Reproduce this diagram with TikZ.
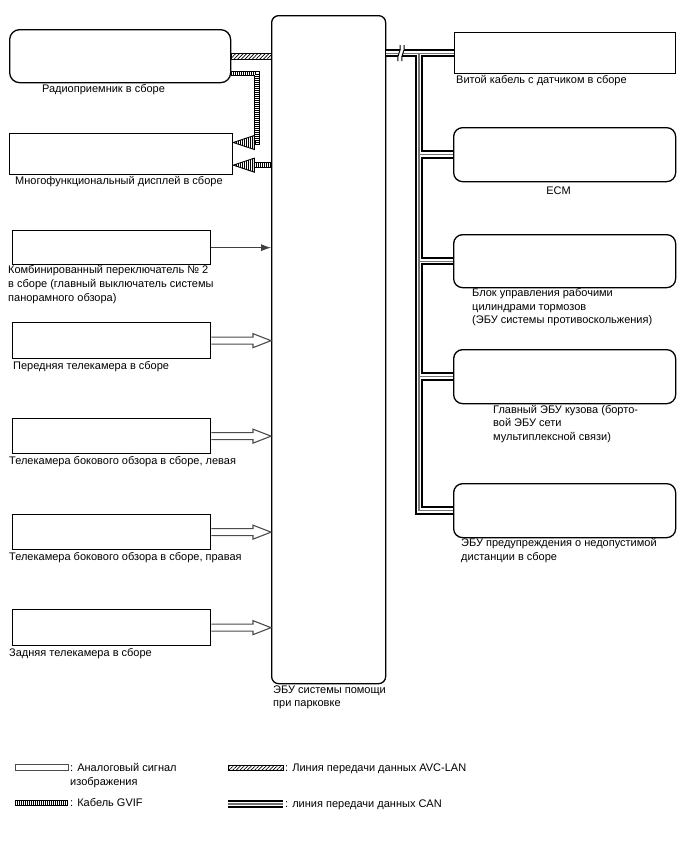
\documentclass[tikz,border=0pt]{standalone}
\usepackage{fontspec}
\setmainfont{Liberation Sans}
\usetikzlibrary{patterns.meta,arrows.meta,calc}
\begin{document}
\begin{tikzpicture}[x=1pt,y=-1pt,
  box/.style={draw, line width=1.3pt, inner sep=0pt, anchor=north west},
  rbox/.style={box, rounded corners=9pt},
  lbl/.style={inner sep=0pt, font=\fontsize{11}{13.6}\selectfont, align=left},
  harrow/.style={draw=black!70, line width=1.1pt, line join=miter, fill=white},
  canA/.style={line width=8.5pt, black, line join=miter},
  canB/.style={line width=4.6pt, white, line join=miter},
  canC/.style={line width=1.1pt, black!55, line join=miter},
  gvA/.style={line width=5.6pt, black, line join=miter},
  gvB/.style={line width=3.4pt, white, line join=miter},
  gvC/.style={line width=3.4pt, black, dash pattern=on 0.6pt off 1.4pt},
  gvhead/.style={draw, line width=0.9pt, fill=white},
  avc/.style={draw, line width=0.8pt, pattern={Lines[angle=45,distance=2.6pt,line width=0.7pt]}}
]
\useasboundingbox (0,0) rectangle (688,852);

% left boxes
\node[rbox, rounded corners=10pt, minimum width=221pt, minimum height=53pt] (radio) at (9,29) {};
\node[box, minimum width=223pt, minimum height=41pt] (disp) at (9,133) {};
\node[box, minimum width=198pt, minimum height=34pt] (sw) at (12,230) {};
\node[box, minimum width=198pt, minimum height=36pt] (fc) at (12,322) {};
\node[box, minimum width=198pt, minimum height=35pt] (sl) at (12,418) {};
\node[box, minimum width=198pt, minimum height=35pt] (sr) at (12,514) {};
\node[box, minimum width=198pt, minimum height=36pt] (rc) at (12,609) {};
% ECU
\node[rbox, rounded corners=7pt, minimum width=114pt, minimum height=668pt] (ecu) at (271,15) {};
% right boxes
\node[box, minimum width=221pt, minimum height=41pt] (tw) at (454,32) {};
\node[rbox, minimum width=222pt, minimum height=54pt] (ecm) at (453,127) {};
\node[rbox, minimum width=222pt, minimum height=53pt] (brake) at (453,234) {};
\node[rbox, minimum width=222pt, minimum height=54pt] (body) at (453,349) {};
\node[rbox, minimum width=222pt, minimum height=54pt] (dist) at (453,483) {};

% labels
\node[lbl, anchor=base] (radioL) at (103.5,92) {Радиоприемник в сборе};
\node[lbl, anchor=base west] (dispL) at (15,184.5) {Многофункциональный дисплей в сборе};
\node[lbl, anchor=north west] (swL) at (8,265.5) {Комбинированный переключатель № 2\\в сборе (главный выключатель системы\\панорамного обзора)};
\node[lbl, anchor=base west] (fcL) at (13,369.5) {Передняя телекамера в сборе};
\node[lbl, anchor=base west] (slL) at (9,464.5) {Телекамера бокового обзора в сборе, левая};
\node[lbl, anchor=base west] (srL) at (9,560.5) {Телекамера бокового обзора в сборе, правая};
\node[lbl, anchor=base west] (rcL) at (9,656.5) {Задняя телекамера в сборе};
\node[lbl, anchor=north west] (ecuL) at (273,685.5) {ЭБУ системы помощи\\при парковке};
\node[lbl, anchor=base west] (twL) at (456,83.5) {Витой кабель с датчиком в сборе};
\node[lbl, anchor=base] (ecmL) at (558.5,194) {ECM};
\node[lbl, anchor=north west] (brakeL) at (472,288.5) {Блок управления рабочими\\цилиндрами тормозов\\(ЭБУ системы противоскольжения)};
\node[lbl, anchor=north west] (bodyL) at (493,405) {Главный ЭБУ кузова (борто-\\вой ЭБУ сети\\мультиплексной связи)};
\node[lbl, anchor=north west] (distL) at (461,538.5) {ЭБУ предупреждения о недопустимой\\дистанции в сборе};

% AVC-LAN radio -> ECU
\coordinate (avcE) at (radio.east -| ecu.west);
\path[avc] ($(radio.east)+(0,-2.8)$) rectangle ($(avcE)+(0,2.8)$);

% GVIF radio -> display
\coordinate (g1) at ($(radio.south east)+(0,-10)$);
\coordinate (gc) at (257,142.5);
\coordinate (d1tip) at (disp.east |- gc);
\coordinate (d1b) at ($(d1tip)+(21,0)$);
\foreach \s in {gvA,gvB,gvC}{\draw[\s] (g1) -- (g1 -| gc) -- (gc) -- (d1b);}
\filldraw[gvhead] (d1tip) -- ($(d1b)+(0,-7)$) -- ($(d1b)+(0,7)$) -- cycle;
\fill[pattern={Lines[angle=90,distance=2pt,line width=0.6pt]}] (d1tip) -- ($(d1b)+(0,-7)$) -- ($(d1b)+(0,7)$) -- cycle;
% GVIF ECU -> display
\coordinate (g2) at ($(ecu.west |- disp.east)+(0,11)$);
\coordinate (d2tip) at (disp.east |- g2);
\coordinate (d2b) at ($(d2tip)+(21,0)$);
\foreach \s in {gvA,gvB,gvC}{\draw[\s] (g2) -- (d2b);}
\filldraw[gvhead] (d2tip) -- ($(d2b)+(0,-7)$) -- ($(d2b)+(0,7)$) -- cycle;
\fill[pattern={Lines[angle=90,distance=2pt,line width=0.6pt]}] (d2tip) -- ($(d2b)+(0,-7)$) -- ($(d2b)+(0,7)$) -- cycle;

% switch -> ECU
\draw[line width=0.8pt, black!75, -{Latex[length=10pt,width=7pt]}] (sw.east) -- (sw.east -| ecu.west);

% hollow arrows from cameras
\foreach \c in {fc,sl,sr,rc}{
  \coordinate (\c T) at (\c.east -| ecu.west);
  \draw[harrow] ($(\c.east)+(0,-3.5)$) -- ($(\c T)+(-18,-3.5)$) -- ++(0,-3.5) -- (\c T) -- ($(\c T)+(-18,7)$) -- ++(0,-3.5) -- ($(\c.east)+(0,3.5)$);
}

% CAN bus
\coordinate (trk) at (419,0 |- tw.west);
\foreach \s in {canA,canB,canC}{
  \draw[\s] (tw.west -| ecu.east) -- (tw.west);
  \draw[\s] (trk) -- (trk |- dist.west) -- (dist.west);
  \draw[\s] (trk |- ecm.west) -- (ecm.west);
  \draw[\s] (trk |- brake.west) -- (brake.west);
  \draw[\s] (trk |- body.west) -- (body.west);
}
% break mark
\coordinate (brk) at (401,0 |- tw.west);
\fill[white] ($(brk)+(-1,-8)$) .. controls ($(brk)+(1,-2)$) and ($(brk)+(-5,2)$) .. ($(brk)+(-3,8)$) -- ($(brk)+(1,8)$) .. controls ($(brk)+(-1,2)$) and ($(brk)+(5,-2)$) .. ($(brk)+(3,-8)$) -- cycle;
\draw[line width=1pt] ($(brk)+(-1,-8)$) .. controls ($(brk)+(1,-2)$) and ($(brk)+(-5,2)$) .. ($(brk)+(-3,8)$);
\draw[line width=1pt] ($(brk)+(3,-8)$) .. controls ($(brk)+(5,-2)$) and ($(brk)+(-1,2)$) .. ($(brk)+(1,8)$);

% legend
\coordinate (la1) at (15,767.5); \coordinate (la2) at (68,767.5);
\draw[draw=black!70, line width=0.9pt, fill=white] ($(la1)+(0,-3)$) rectangle ($(la2)+(0,3)$);
\node[lbl, anchor=north west] (lgA) at (70,763.5) {: Аналоговый сигнал\\изображения};
\coordinate (lg1) at (15,803); \coordinate (lg2) at (68,803);
\foreach \s in {gvA,gvB,gvC}{\draw[\s] (lg1) -- (lg2);}
\node[lbl, anchor=base west] (lgG) at (70,806.5) {: Кабель GVIF};
\coordinate (lv1) at (228,768); \coordinate (lv2) at (283,768);
\path[avc] ($(lv1)+(0,-2.8)$) rectangle ($(lv2)+(0,2.8)$);
\node[lbl, anchor=base west] (lgV) at (285,771.5) {: Линия передачи данных AVC-LAN};
\coordinate (lc1) at (228,804); \coordinate (lc2) at (283,804);
\foreach \s in {canA,canB,canC}{\draw[\s] (lc1) -- (lc2);}
\node[lbl, anchor=base west] (lgC) at (285,807.5) {: линия передачи данных CAN};
\end{tikzpicture}
\end{document}
